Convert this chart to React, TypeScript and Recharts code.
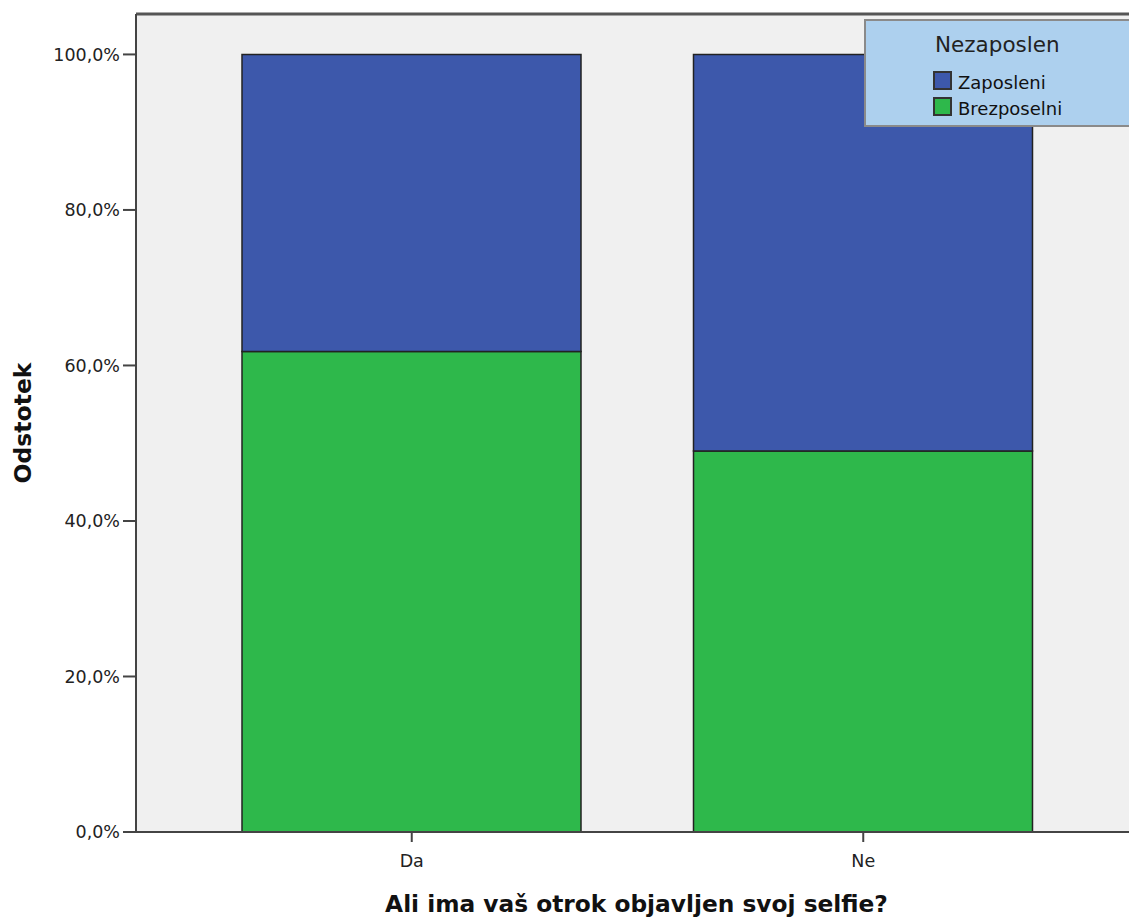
import React from 'react';
import { BarChart, Bar, XAxis, YAxis, CartesianGrid, Legend, ReferenceLine, Label } from 'recharts';

const categories = ['Da', 'Ne'];
const brezposelni = [61.8, 49.0];
const zaposleni = [38.2, 51.0];
const yTicks = [0, 20, 40, 60, 80, 100];

const data = categories.map((c, i) => ({ cat: c, Brezposelni: brezposelni[i], Zaposleni: zaposleni[i] }));

const FONT = '"DejaVu Sans", Verdana, sans-serif';

const fmt = (v: number) => v.toFixed(1).replace('.', ',') + '%';

const LegendBox = (props: any) => {
  const payload = [...(props.payload || [])].reverse();
  return (
    <div style={{ width: 290, height: 108, background: '#ADD0EE', border: '2px solid #8a8a8a', boxSizing: 'border-box', fontFamily: FONT, position: 'relative' }}>
      <div style={{ position: 'absolute', left: 69, top: 13, fontSize: 21.5, lineHeight: '21.5px', color: '#222', whiteSpace: 'nowrap' }}>Nezaposlen</div>
      {payload.map((p: any, i: number) => (
        <React.Fragment key={p.value}>
          <div style={{ position: 'absolute', left: 67, top: 50 + i * 26, width: 19, height: 19, background: p.color, border: '2px solid #333', boxSizing: 'border-box' }} />
          <div style={{ position: 'absolute', left: 92, top: 53 + i * 26, fontSize: 18, lineHeight: '18px', color: '#111', whiteSpace: 'nowrap' }}>{p.value}</div>
        </React.Fragment>
      ))}
    </div>
  );
};

export default function App() {
  return (
    <div style={{ position: 'absolute', left: 0, top: 0, width: 1129, height: 918, overflow: 'hidden', background: '#fff' }}>
      <BarChart width={1129} height={918} data={data} margin={{ top: 14, right: 0, left: 0, bottom: 0 }} barCategoryGap={0}>
        <CartesianGrid fill="#F0F0F0" horizontal={false} vertical={false} />
        <XAxis
          dataKey="cat"
          height={86}
          padding={{ left: 50, right: 40 }}
          axisLine={{ stroke: '#444', strokeWidth: 2 }}
          tickLine={{ stroke: '#444', strokeWidth: 2 }}
          tickSize={10}
          tickMargin={13}
          tick={{ fontFamily: FONT, fontSize: 17.5, fill: '#222' }}
        >
          <Label
            value="Ali ima vaš otrok objavljen svoj selfie?"
            position="insideBottom"
            offset={6}
            dx={4}
            style={{ fontFamily: FONT, fontSize: 23.3, fontWeight: 'bold', fill: '#111' }}
          />
        </XAxis>
        <YAxis
          width={136}
          domain={[0, 105.2]}
          ticks={yTicks}
          interval={0}
          allowDataOverflow
          tickFormatter={fmt}
          axisLine={{ stroke: '#444', strokeWidth: 2 }}
          tickLine={{ stroke: '#444', strokeWidth: 2 }}
          tickSize={13}
          tickMargin={3}
          tick={{ fontFamily: FONT, fontSize: 17.5, fill: '#222' }}
        >
          <Label
            value="Odstotek"
            angle={-90}
            position="insideLeft"
            offset={23}
            style={{ fontFamily: FONT, fontSize: 23.5, fontWeight: 'bold', fill: '#111', textAnchor: 'middle' }}
          />
        </YAxis>
        <ReferenceLine y={105.2} stroke="#555" strokeWidth={3} ifOverflow="extendDomain" />
        <Bar dataKey="Brezposelni" stackId="a" fill="#2EB84B" stroke="#222" strokeWidth={1.5} barSize={339} isAnimationActive={false} />
        <Bar dataKey="Zaposleni" stackId="a" fill="#3D58AB" stroke="#222" strokeWidth={1.5} barSize={339} isAnimationActive={false} />
        <Legend
          layout="horizontal"
          verticalAlign="middle"
          align="center"
          content={<LegendBox />}
          wrapperStyle={{ position: 'absolute', left: 864, top: 19, width: 290, height: 108 }}
        />
      </BarChart>
    </div>
  );
}
